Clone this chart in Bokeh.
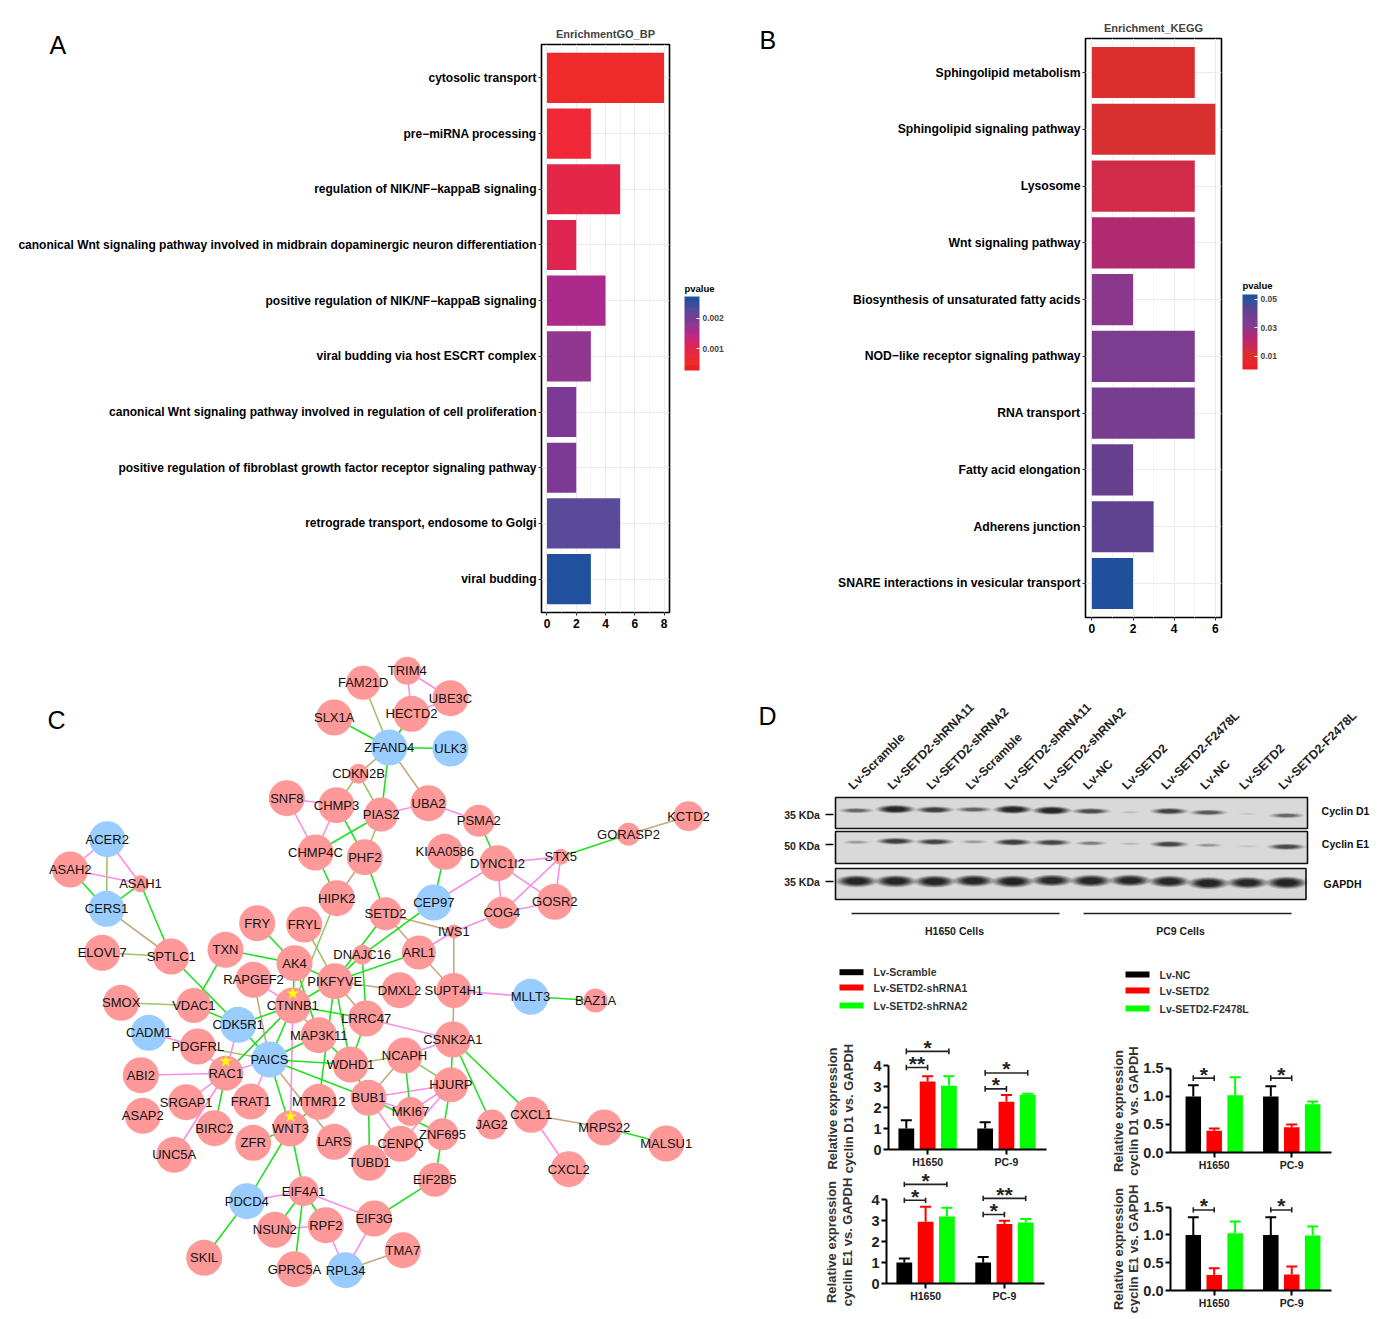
from bokeh.plotting import figure
from bokeh.models import (FactorRange, Range1d, FixedTicker, LinearColorMapper, ColorBar,
                          PrintfTickFormatter, ColumnDataSource)
from bokeh.layouts import column, row
from bokeh.embed import file_html
from bokeh.resources import INLINE
from bokeh.core.properties import value

FONT = "Liberation Sans"

# ---------- Panel A / B data ----------
go_terms = ["cytosolic transport", "pre\u2212miRNA processing", "regulation of NIK/NF\u2212kappaB signaling",
            "canonical Wnt signaling pathway involved in midbrain dopaminergic neuron differentiation",
            "positive regulation of NIK/NF\u2212kappaB signaling", "viral budding via host ESCRT complex",
            "canonical Wnt signaling pathway involved in regulation of cell proliferation",
            "positive regulation of fibroblast growth factor receptor signaling pathway",
            "retrograde transport, endosome to Golgi", "viral budding"]
go_counts = [8, 3, 5, 2, 4, 3, 2, 2, 5, 3]
go_p = [0.00053, 0.00071, 0.00088, 0.00106, 0.00159, 0.00177, 0.00194, 0.00194, 0.0023, 0.00265]

kegg_terms = ["Sphingolipid metabolism", "Sphingolipid signaling pathway", "Lysosome", "Wnt signaling pathway",
              "Biosynthesis of unsaturated fatty acids", "NOD\u2212like receptor signaling pathway", "RNA transport",
              "Fatty acid elongation", "Adherens junction", "SNARE interactions in vesicular transport"]
kegg_counts = [5, 6, 5, 5, 2, 5, 5, 2, 3, 2]
kegg_p = [0.00838, 0.0115, 0.0146, 0.0239, 0.0301, 0.0333, 0.0364, 0.0395, 0.0426, 0.0519]

PAL_A = ["#EE1C25", "#EE2A2B", "#EF2736", "#E42648", "#DE2450", "#D0266C", "#BE2880", "#AC2A8C", "#90378F",
         "#7D3A94", "#6C4196", "#594A9C", "#3A4E9D", "#21519E"]
PAL_B = ["#EE1C25", "#E6262A", "#DC2E2C", "#D82F30", "#D02B48", "#C82A58", "#BC2A68", "#B02A72", "#9E3082",
         "#8A378C", "#7C3C8F", "#773D8E", "#67408F", "#5F4391", "#4A4896", "#30509B", "#20509C"]


def note(p, text, x, y, size, style):
    """A free text placed outside the frame, carried by the title of an invisible colour bar."""
    p.add_layout(ColorBar(color_mapper=LinearColorMapper(palette=["#ffffff"], low=0, high=1),
                          orientation="horizontal", ticker=FixedTicker(ticks=[]), width=1, height=1,
                          location=(x, y), padding=0, title=text, title_text_font=FONT, title_text_font_size=size,
                          title_text_font_style=style, title_text_color="black", title_standoff=0,
                          bar_line_color=None, major_tick_line_color=None, border_line_color=None,
                          background_fill_color=None, scale_alpha=0), "center")


def enrich(terms, counts, pvals, palette, title, width, left, right, top, bottom, xr, ticks, minor, plo, phi,
           cticks, fmt, cloc, ch, pv_pos, letter, letter_text, lab_size):
    rev = list(reversed(terms))
    p = figure(width=width, height=640, output_backend="svg", toolbar_location=None,
               y_range=FactorRange(factors=rev, range_padding=0.1, range_padding_units="absolute"),
               x_range=Range1d(*xr), min_border_left=left, min_border_right=right,
               min_border_top=top, min_border_bottom=bottom, title=title)
    p.frame_align = False
    mapper = LinearColorMapper(palette=palette, low=plo, high=phi)
    src = ColumnDataSource(dict(y=terms, v=counts, pv=pvals))
    p.hbar(y="y", left=0, right="v", height=0.9, source=src,
           fill_color={"field": "pv", "transform": mapper}, line_color=None)
    p.title.align = "center"
    p.title.text_font = FONT
    p.title.text_font_size = "11px"
    p.title.text_font_style = "bold"
    p.title.standoff = 10
    p.outline_line_color = "black"
    p.outline_line_width = 1.6
    p.xaxis.ticker = FixedTicker(ticks=ticks, minor_ticks=minor)
    p.xgrid.grid_line_color = "#EBEBEB"
    p.xgrid.minor_grid_line_color = "#F3F3F3"
    p.ygrid.grid_line_color = "#EBEBEB"
    for ax in (p.xaxis[0], p.yaxis[0]):
        ax.axis_line_color = None
        ax.major_tick_line_color = "#333333"
        ax.major_tick_out = 3
        ax.major_tick_in = 0
        ax.minor_tick_line_color = None
        ax.major_label_text_font = FONT
        ax.major_label_text_font_style = "bold"
        ax.major_label_text_color = "black"
    p.yaxis.major_label_text_font_size = lab_size
    p.xaxis.major_label_text_font_size = "12px"
    p.yaxis.major_label_standoff = 2
    p.xaxis.major_label_standoff = 2
    cb = ColorBar(color_mapper=mapper, ticker=FixedTicker(ticks=cticks),
                  formatter=PrintfTickFormatter(format=fmt),
                  width=15, height=ch, location=cloc, padding=0,
                  major_label_text_font=FONT, major_label_text_font_size="8.5px",
                  major_label_text_font_style="bold", major_tick_line_color="white", major_tick_out=0,
                  major_tick_in=3, bar_line_color=None, background_fill_color=None,
                  border_line_color=None, label_standoff=3)
    p.add_layout(cb, "center")
    note(p, "pvalue", pv_pos[0], pv_pos[1], "9.5px", "bold")
    note(p, letter_text, letter[0], letter[1], "25px", "normal")
    return p


# ---------- Panel C data ----------
nodes = [
    ("ACER2", 106.7, 838.7, 18, "b"), ("ASAH2", 69.7, 869, 18, "r"), ("ASAH1", 140, 883.3, 8.5, "r"),
    ("CERS1", 106, 908.3, 18, "b"), ("ELOVL7", 101.7, 952.3, 18, "r"), ("SPTLC1", 170.7, 956, 18, "r"),
    ("TXN", 225, 949.3, 18, "r"), ("FRY", 256.7, 922.7, 18, "r"), ("FRYL", 303.7, 924, 18, "r"),
    ("AK4", 294, 962.7, 18, "r"), ("PIKFYVE", 334.3, 980.7, 18, "r"), ("RAPGEF2", 253, 979.3, 18, "r"),
    ("HIPK2", 336.3, 897.7, 18, "r"), ("CHMP4C", 315, 852, 18, "r"), ("CHMP3", 336, 804.7, 18, "r"),
    ("SNF8", 286.3, 797.7, 18, "r"), ("CDKN2B", 358, 773.3, 10, "r"), ("SLX1A", 333.7, 717, 18, "r"),
    ("FAM21D", 362.7, 682.3, 17, "r"), ("PHF2", 364.3, 856.7, 18, "r"), ("PIAS2", 380.7, 814, 17, "r"),
    ("TRIM4", 406.7, 670.3, 14, "r"), ("UBE3C", 450, 697.7, 18, "r"), ("HECTD2", 411, 713.3, 18, "r"),
    ("ZFAND4", 388.7, 747, 18, "b"), ("ULK3", 450, 748, 18, "b"), ("UBA2", 428, 802.7, 18, "r"),
    ("PSMA2", 478.3, 820.3, 16, "r"), ("KIAA0586", 444.3, 851.3, 18, "r"), ("DYNC1I2", 497, 862.7, 18, "r"),
    ("STX5", 560.3, 856.3, 8, "r"), ("GORASP2", 628, 833.7, 11.5, "r"), ("KCTD2", 688, 815.7, 15, "r"),
    ("CEP97", 433.3, 902, 18, "b"), ("COG4", 501.3, 912.3, 16, "r"), ("GOSR2", 554.3, 901.3, 18, "r"),
    ("SETD2", 385, 913.3, 16.5, "r"), ("IWS1", 453.3, 931, 7, "r"), ("ARL1", 418.3, 952, 17, "r"),
    ("DNAJC16", 361.7, 954.3, 10, "r"), ("DMXL2", 399, 989.7, 18, "r"), ("SUPT4H1", 453.3, 990, 17.5, "r"),
    ("MLLT3", 530, 996.3, 18, "b"), ("BAZ1A", 595, 1000, 12, "r"), ("SMOX", 120.7, 1002.3, 18, "r"),
    ("VDAC1", 193.3, 1005, 17.5, "r"), ("CTNNB1", 292.3, 1005, 18, "r"), ("CDK5R1", 237.7, 1024.3, 18, "b"),
    ("LRRC47", 365.7, 1018, 18, "r"), ("CADM1", 148.3, 1032.3, 18, "b"), ("PDGFRL", 197.3, 1046, 18, "r"),
    ("MAP3K11", 318.3, 1034.7, 18, "r"), ("CSNK2A1", 452.3, 1039, 18, "r"), ("PAICS", 269, 1059, 18, "b"),
    ("RAC1", 225.3, 1072.7, 17.5, "r"), ("WDHD1", 350, 1064, 18, "r"), ("NCAPH", 404, 1055, 18, "r"),
    ("ABI2", 140.3, 1074.7, 18, "r"), ("SRGAP1", 185.7, 1101.7, 18, "r"), ("FRAT1", 250.3, 1101, 18, "r"),
    ("MTMR12", 318.3, 1101.3, 18, "r"), ("BUB1", 368, 1097.3, 18, "r"), ("HJURP", 450.3, 1084.3, 17.5, "r"),
    ("MKI67", 410, 1111, 14.5, "r"), ("ASAP2", 142.3, 1115.3, 18, "r"), ("BIRC2", 214, 1127.7, 18, "r"),
    ("WNT3", 290, 1128, 18, "r"), ("ZFR", 252.7, 1142.3, 18, "r"), ("LARS", 333.7, 1141.3, 18, "r"),
    ("ZNF695", 442, 1133.7, 16, "r"), ("JAG2", 491.3, 1124, 15, "r"), ("CXCL1", 530.7, 1114.3, 18, "r"),
    ("MRPS22", 603.7, 1127, 18, "r"), ("MALSU1", 665.7, 1143, 18, "r"), ("CENPQ", 400, 1143.3, 18, "r"),
    ("TUBD1", 369, 1162.3, 18, "r"), ("UNC5A", 173.7, 1154.3, 18, "r"), ("CXCL2", 568.3, 1168.7, 18, "r"),
    ("EIF2B5", 434.3, 1179.3, 17, "r"), ("EIF4A1", 303, 1190.7, 15, "r"), ("PDCD4", 246.3, 1200.7, 18, "b"),
    ("EIF3G", 373.7, 1218, 18, "r"), ("RPF2", 325.3, 1224.7, 18, "r"), ("NSUN2", 274.3, 1229.3, 18, "r"),
    ("TMA7", 402.3, 1249.7, 18, "r"), ("SKIL", 203.7, 1257.3, 18, "r"), ("GPRC5A", 294, 1268.7, 18, "r"),
    ("RPL34", 345, 1269.7, 18, "b"),
]
edges_green = """ASAH2-CERS1 ASAH1-CERS1 ASAH1-SPTLC1 SPTLC1-CDK5R1 TXN-VDAC1 TXN-AK4 FRY-AK4 CHMP4C-HIPK2 CHMP3-PHF2
CHMP4C-PIAS2 ZFAND4-PIAS2 ZFAND4-ULK3 ZFAND4-HECTD2 ZFAND4-SLX1A PSMA2-DYNC1I2 KIAA0586-CEP97 STX5-GORASP2 PHF2-SETD2
SETD2-PIKFYVE CEP97-DNAJC16 DNAJC16-PIKFYVE ARL1-PIKFYVE DNAJC16-LRRC47 MLLT3-BAZ1A CSNK2A1-HJURP CSNK2A1-JAG2
CSNK2A1-CXCL1 MRPS22-MALSU1 NCAPH-MKI67 HJURP-ZNF695 BUB1-ZNF695 BUB1-TUBD1 BUB1-WDHD1 LRRC47-WDHD1 ZNF695-EIF2B5
EIF2B5-EIF3G RPF2-EIF4A1 NSUN2-EIF4A1 GPRC5A-EIF4A1 PDCD4-SKIL PDCD4-WNT3 WNT3-EIF4A1 WNT3-ZFR WNT3-PAICS WNT3-MTMR12
PAICS-CTNNB1 PAICS-CDK5R1 PAICS-MAP3K11 PAICS-WDHD1 PAICS-BUB1 RAC1-CTNNB1 RAC1-BIRC2 CDK5R1-VDAC1 CDK5R1-CTNNB1
CTNNB1-AK4 CTNNB1-PIKFYVE CTNNB1-LRRC47 PIKFYVE-MTMR12 PIKFYVE-WDHD1 AK4-PIKFYVE MAP3K11-WDHD1 AK4-MAP3K11""".split()
edges_pink = """ACER2-ASAH2 ACER2-ASAH1 ASAH2-ASAH1 SNF8-CHMP3 SNF8-CHMP4C CHMP3-CHMP4C HECTD2-TRIM4 TRIM4-UBE3C HECTD2-UBE3C
PIAS2-UBA2 UBA2-PSMA2 CEP97-DYNC1I2 DYNC1I2-STX5 DYNC1I2-COG4 DYNC1I2-GOSR2 STX5-GOSR2 STX5-COG4 COG4-GOSR2 COG4-IWS1
IWS1-ARL1 SUPT4H1-MLLT3 LRRC47-CSNK2A1 CSNK2A1-NCAPH CXCL1-CXCL2 HJURP-BUB1 HJURP-MKI67 HJURP-CENPQ BUB1-MKI67 BUB1-CENPQ
EIF3G-EIF4A1 EIF3G-RPL34 RPL34-RPF2 RPF2-NSUN2 EIF4A1-PDCD4 WNT3-CTNNB1 PAICS-RAC1 PAICS-FRAT1 RAC1-CTNNB1 RAC1-CDK5R1
RAC1-ABI2 RAC1-SRGAP1 RAC1-UNC5A RAC1-PDGFRL CADM1-PDGFRL CTNNB1-RAPGEF2 PAICS-MAP3K11""".split()
edges_tan = """CERS1-SPTLC1 PHF2-HIPK2 CDKN2B-ZFAND4 ZFAND4-UBA2 GORASP2-KCTD2 IWS1-SETD2 IWS1-SUPT4H1 PIKFYVE-DMXL2 CXCL1-MRPS22
RPL34-TMA7 PAICS-LARS PAICS-RAPGEF2 CTNNB1-MAP3K11 SETD2-ARL1 ARL1-SUPT4H1 SUPT4H1-CSNK2A1 NCAPH-BUB1 PIKFYVE-LRRC47""".split()
edges_olive = """ACER2-CERS1 ELOVL7-SPTLC1 FRYL-PIKFYVE HIPK2-CTNNB1 CHMP3-CDKN2B PIAS2-PHF2 CDKN2B-PIAS2 ZFAND4-FAM21D ZFAND4-HECTD2
NCAPH-HJURP NCAPH-WDHD1 VDAC1-SMOX PAICS-PDGFRL""".split()
star_nodes = ["RAC1", "CTNNB1", "WNT3"]

# ---------- Panel D data ----------
lanes = ["Lv-Scramble", "Lv-SETD2-shRNA11", "Lv-SETD2-shRNA2", "Lv-Scramble", "Lv-SETD2-shRNA11", "Lv-SETD2-shRNA2",
         "Lv-NC", "Lv-SETD2", "Lv-SETD2-F2478L", "Lv-NC", "Lv-SETD2", "Lv-SETD2-F2478L"]
d1_int = [.42, .95, .68, .45, .95, .95, .58, .06, .65, .5, .04, .42]
e1_int = [.18, .68, .62, .18, .68, .62, .3, .08, .62, .2, .05, .6]
gapdh_int = [.95, .95, .95, .92, .97, .9, .95, .92, .92, .97, .92, 1.0]
d1_y = [810, 808.7, 809.3, 809, 809, 810, 810.7, 811.7, 810.7, 812, 813.3, 815]
e1_y = [841.7, 840.7, 841.3, 841.3, 841.7, 842, 842.7, 843.3, 843.7, 844.7, 845.7, 846.3]
g_y = [880.7, 880.7, 881, 880.3, 881, 880, 880.3, 880, 881, 882.7, 882.3, 882.3]

groups = ["H1650", "PC-9"]
lt_vals = [[1.0, 1.0], [3.25, 2.28], [3.05, 2.62]]
lt_errs = [[.4, .3], [.25, .32], [.45, .05]]
lb_vals = [[1.0, 1.0], [2.95, 2.85], [3.2, 2.92]]
lb_errs = [[.2, .27], [.72, .15], [.42, .17]]
rt_vals = [[1.0, 1.0], [.39, .45], [1.02, .86]]
rt_errs = [[.2, .18], [.04, .05], [.32, .05]]
rb_vals = [[1.0, 1.0], [.28, .29], [1.03, .99]]
rb_errs = [[.32, .32], [.12, .14], [.21, .16]]
# (group, last series index, bracket level, stars)
lt_sig = [(0, 2, 4.69, "*"), (0, 1, 3.92, "**"), (1, 2, 3.66, "*"), (1, 1, 2.9, "*")]
lb_sig = [(0, 2, 4.74, "*"), (0, 1, 3.98, "*"), (1, 2, 4.07, "**"), (1, 1, 3.3, "*")]
rt_sig = [(0, 1, 1.327, "*"), (1, 1, 1.327, "*")]
rb_sig = [(0, 1, 1.45, "*"), (1, 1, 1.45, "*")]
legend_l = ["Lv-Scramble", "Lv-SETD2-shRNA1", "Lv-SETD2-shRNA2"]
legend_r = ["Lv-NC", "Lv-SETD2", "Lv-SETD2-F2478L"]
ylab_1 = "Relative expression"
ylab_d1 = "cyclin D1 vs. GAPDH"
ylab_e1 = "cyclin E1 vs. GAPDH"
SER = ["#000000", "#FF0000", "#00FF00"]


def bars(vals, errs, sig, width, height, left, right, top, bottom, ymax, yticks, fmt, xr):
    p = figure(width=width, height=height, output_backend="svg", toolbar_location=None,
               x_range=Range1d(*xr), y_range=Range1d(0, ymax), min_border_left=left, min_border_right=right,
               min_border_top=top, min_border_bottom=bottom)
    p.frame_align = False
    off = [-0.27, 0.0, 0.27]
    for s in range(3):
        xs = [g + off[s] for g in range(2)]
        tops = vals[s]
        ups = [v + e for v, e in zip(vals[s], errs[s])]
        p.vbar(x=xs, top=tops, bottom=0, width=0.2, fill_color=SER[s], line_color=None)
        p.segment(x0=xs, x1=xs, y0=tops, y1=ups, line_color=SER[s], line_width=2)
        p.segment(x0=[x - 0.07 for x in xs], x1=[x + 0.07 for x in xs], y0=ups, y1=ups, line_color=SER[s], line_width=2)
    capy = ymax * 0.024
    for g, last, lvl, st in sig:
        x0 = g + off[0]
        x1 = g + off[last]
        p.segment(x0=[x0], x1=[x1], y0=[lvl], y1=[lvl], line_color="#222222", line_width=1.6)
        p.segment(x0=[x0, x1], x1=[x0, x1], y0=[lvl - capy] * 2, y1=[lvl + capy] * 2, line_color="#222222", line_width=1.6)
        p.text(x=[(x0 + x1) / 2], y=[lvl], text=[st], text_font=value(FONT), text_font_size="21px",
               text_font_style="bold", text_align="center", text_baseline="middle", text_color="#222222",
               y_offset=[-4])
    p.grid.visible = False
    p.outline_line_color = None
    p.xaxis.ticker = FixedTicker(ticks=[0, 1])
    p.xaxis.major_label_overrides = {0: groups[0], 1: groups[1]}
    p.yaxis.ticker = FixedTicker(ticks=yticks)
    p.yaxis.bounds = (0, yticks[-1])
    p.yaxis.formatter = PrintfTickFormatter(format=fmt)
    for ax in (p.xaxis[0], p.yaxis[0]):
        ax.axis_line_color = "black"
        ax.axis_line_width = 2
        ax.major_tick_line_color = "black"
        ax.major_tick_line_width = 2
        ax.major_tick_out = 5
        ax.major_tick_in = 0
        ax.minor_tick_line_color = None
        ax.major_label_text_font = FONT
        ax.major_label_text_font_style = "bold"
        ax.major_label_text_color = "#222222"
    p.xaxis.major_label_text_font_size = "10.5px"
    p.yaxis.major_label_text_font_size = "14.5px"
    p.xaxis.major_label_standoff = 1
    p.yaxis.major_label_standoff = 2
    return p


def ylabels(x0, x1, entries):
    """Strip left of a column of bar charts; it carries their two-line rotated axis titles."""
    p = figure(width=x1 - x0, height=288, output_backend="svg", toolbar_location=None, x_range=Range1d(x0, x1),
               y_range=Range1d(1318, 1030), x_axis_type=None, y_axis_type=None, min_border=0)
    p.frame_align = False
    p.grid.visible = False
    p.outline_line_color = None
    xs, ys, texts = zip(*entries)
    p.text(x=list(xs), y=list(ys), text=list(texts), angle=90, angle_units="deg", text_font=value(FONT),
           text_font_size="13px", text_font_style="bold", text_color="#333333", text_align="center",
           text_baseline="middle")
    return p


# ---------- build A, B ----------
pa = enrich(go_terms, go_counts, go_p, PAL_A, "EnrichmentGO_BP", 730, 541, 61, 44, 28, (-0.376, 8.376),
            [0, 2, 4, 6, 8], [1, 3, 5, 7], 0.00027, 0.00273, [0.001, 0.002], "%.3f", (143, 242), 74, (143, 318),
            (-492, 553), "A", "12px")
pb = enrich(kegg_terms, kegg_counts, kegg_p, PAL_B, "Enrichment_KEGG", 658, 355, 167, 38, 23, (-0.31, 6.3),
            [0, 2, 4, 6], [1, 3, 5], 0.0006, 0.0535, [0.01, 0.03, 0.05], "%.2f", (157, 248), 75, (157, 326),
            (-326, 563), "B", "12.2px")

# ---------- build C ----------
pc = figure(width=733, height=671, output_backend="svg", toolbar_location=None, x_range=Range1d(0, 733),
            y_range=Range1d(1311, 640), x_axis_type=None, y_axis_type=None, min_border=0)
pc.frame_align = False
pc.grid.visible = False
pc.outline_line_color = None
pos = {n[0]: (n[1], n[2]) for n in nodes}
for elist, col in ((edges_tan, "#C4A87E"), (edges_olive, "#9CC46A"), (edges_pink, "#F98EEA"), (edges_green, "#22E022")):
    x0, y0, x1, y1 = [], [], [], []
    for e in elist:
        a, b = e.split("-")
        x0.append(pos[a][0]); y0.append(pos[a][1]); x1.append(pos[b][0]); y1.append(pos[b][1])
    pc.segment(x0=x0, y0=y0, x1=x1, y1=y1, line_color=col, line_width=1.6)
pc.circle(x=[n[1] for n in nodes], y=[n[2] for n in nodes], radius=[n[3] for n in nodes],
          fill_color=["#99CCFF" if n[4] == "b" else "#FF9999" for n in nodes], line_color=None)
pc.star(x=[pos[n][0] for n in star_nodes], y=[pos[n][1] - 12 for n in star_nodes], size=13,
        fill_color="#FFFF00", line_color=None)
pc.text(x=[n[1] for n in nodes], y=[n[2] for n in nodes], text=[n[0] for n in nodes], text_font=value(FONT),
        text_font_size="13px", text_align="center", text_baseline="middle", text_color="#111111")
pc.text(x=[56], y=[719], text=["C"], text_font=value(FONT), text_font_size="25px", text_align="center",
        text_baseline="middle", text_color="black")

# ---------- build D top (blots + legends) ----------
pd_ = figure(width=655, height=390, output_backend="svg", toolbar_location=None, x_range=Range1d(733, 1388),
             y_range=Range1d(1030, 640), x_axis_type=None, y_axis_type=None, min_border=0)
pd_.frame_align = False
pd_.grid.visible = False
pd_.outline_line_color = None
pd_.text(x=[767], y=[715], text=["D"], text_font=value(FONT), text_font_size="25px", text_align="center",
         text_baseline="middle")
lane_x = [856 + 39.1 * i for i in range(12)]
pd_.text(x=[x - 6 for x in lane_x], y=[787] * 12, text=lanes, angle=45, angle_units="deg", text_font=value(FONT),
         text_font_size="12.3px", text_font_style="bold", text_baseline="middle", text_align="left", text_color="#222222")
for (y0, y1, x1) in ((797, 828, 1307), (831, 863, 1307), (868, 899, 1305.5)):
    pd_.quad(left=[835], right=[x1], top=[y0], bottom=[y1], fill_color="#D9D9D9", line_color="#111111", line_width=1.6)
for ints, ys, w, h in ((d1_int, d1_y, 31, 7), (e1_int, e1_y, 31, 7), (gapdh_int, g_y, 33, 10)):
    for scale, a in ((1.3, 0.12), (1.18, 0.15), (1.06, 0.2), (0.94, 0.25), (0.82, 0.3), (0.7, 0.35), (0.58, 0.4)):
        pd_.ellipse(x=lane_x, y=ys, width=[w * scale * (0.6 + 0.4 * min(1, i * 2)) for i in ints],
                    height=[h * scale * (0.35 + 0.65 * i) for i in ints], fill_color="#0A0A0A",
                    fill_alpha=[a * i for i in ints], line_color=None)
pd_.text(x=[801.5] * 3, y=[814.5, 845, 881.5], text=["35 KDa", "50 KDa", "35 KDa"], text_font=value(FONT),
         text_font_size="10.5px", text_font_style="bold", text_align="center", text_baseline="middle", text_color="#222222")
pd_.segment(x0=[825] * 3, x1=[833] * 3, y0=[814, 844, 881], y1=[814, 844, 881], line_color="black", line_width=1.5)
pd_.text(x=[1345, 1345, 1342], y=[810, 843, 883], text=["Cyclin D1", "Cyclin E1", "GAPDH"], text_font=value(FONT),
         text_font_size="10.5px", text_font_style="bold", text_align="center", text_baseline="middle", text_color="#111111")
pd_.segment(x0=[851, 1083], x1=[1059, 1291], y0=[913, 913], y1=[913, 913], line_color="#222222", line_width=1.3)
pd_.text(x=[954, 1180], y=[930, 930], text=["H1650 Cells", "PC9 Cells"], text_font=value(FONT),
         text_font_size="10.5px", text_font_style="bold", text_align="center", text_baseline="middle", text_color="#222222")
for lab, x0, ys in ((legend_l, 839, [971.7, 987, 1005]), (legend_r, 1125, [974, 990, 1008])):
    pd_.quad(left=[x0] * 3, right=[x0 + 24] * 3, top=[y - 3 for y in ys], bottom=[y + 3 for y in ys],
             fill_color=SER, line_color=None)
    pd_.text(x=[x0 + 34] * 3, y=ys, text=lab, text_font=value(FONT), text_font_size="10.5px", text_font_style="bold",
             text_baseline="middle", text_color="#333333")

# ---------- build D bars ----------
xr_l = (-0.496, 1.508)
xr_r = (-0.564, 1.513)
lt = bars(lt_vals, lt_errs, lt_sig, 232, 140, 20, 54, 0, 20, 5.69, [0, 1, 2, 3, 4], "%d", xr_l)
lb = bars(lb_vals, lb_errs, lb_sig, 232, 141, 18, 56, 2, 28, 5.31, [0, 1, 2, 3, 4], "%d", xr_l)
rt = bars(rt_vals, rt_errs, rt_sig, 248, 148, 29, 57, 0, 26, 2.176, [0.0, 0.5, 1.0, 1.5], "%.1f", xr_r)
rb = bars(rb_vals, rb_errs, rb_sig, 248, 133, 29, 57, 2, 20, 1.98, [0.0, 0.5, 1.0, 1.5], "%.1f", xr_r)
lab_l = ylabels(733, 868, [(832, 1108, ylab_1), (848, 1108, ylab_d1), (830.7, 1241.5, ylab_1), (846.7, 1241.5, ylab_e1)])
lab_r = ylabels(1100, 1140, [(1118, 1110.5, ylab_1), (1133, 1110.5, ylab_d1), (1118, 1248.5, ylab_1), (1133, 1248.5, ylab_e1)])

layout = column(row(pa, pb), row(pc, column(pd_, row(lab_l, column(lt, lb), lab_r, column(rt, rb)))))
open("out.html", "w").write(file_html(layout, INLINE))
